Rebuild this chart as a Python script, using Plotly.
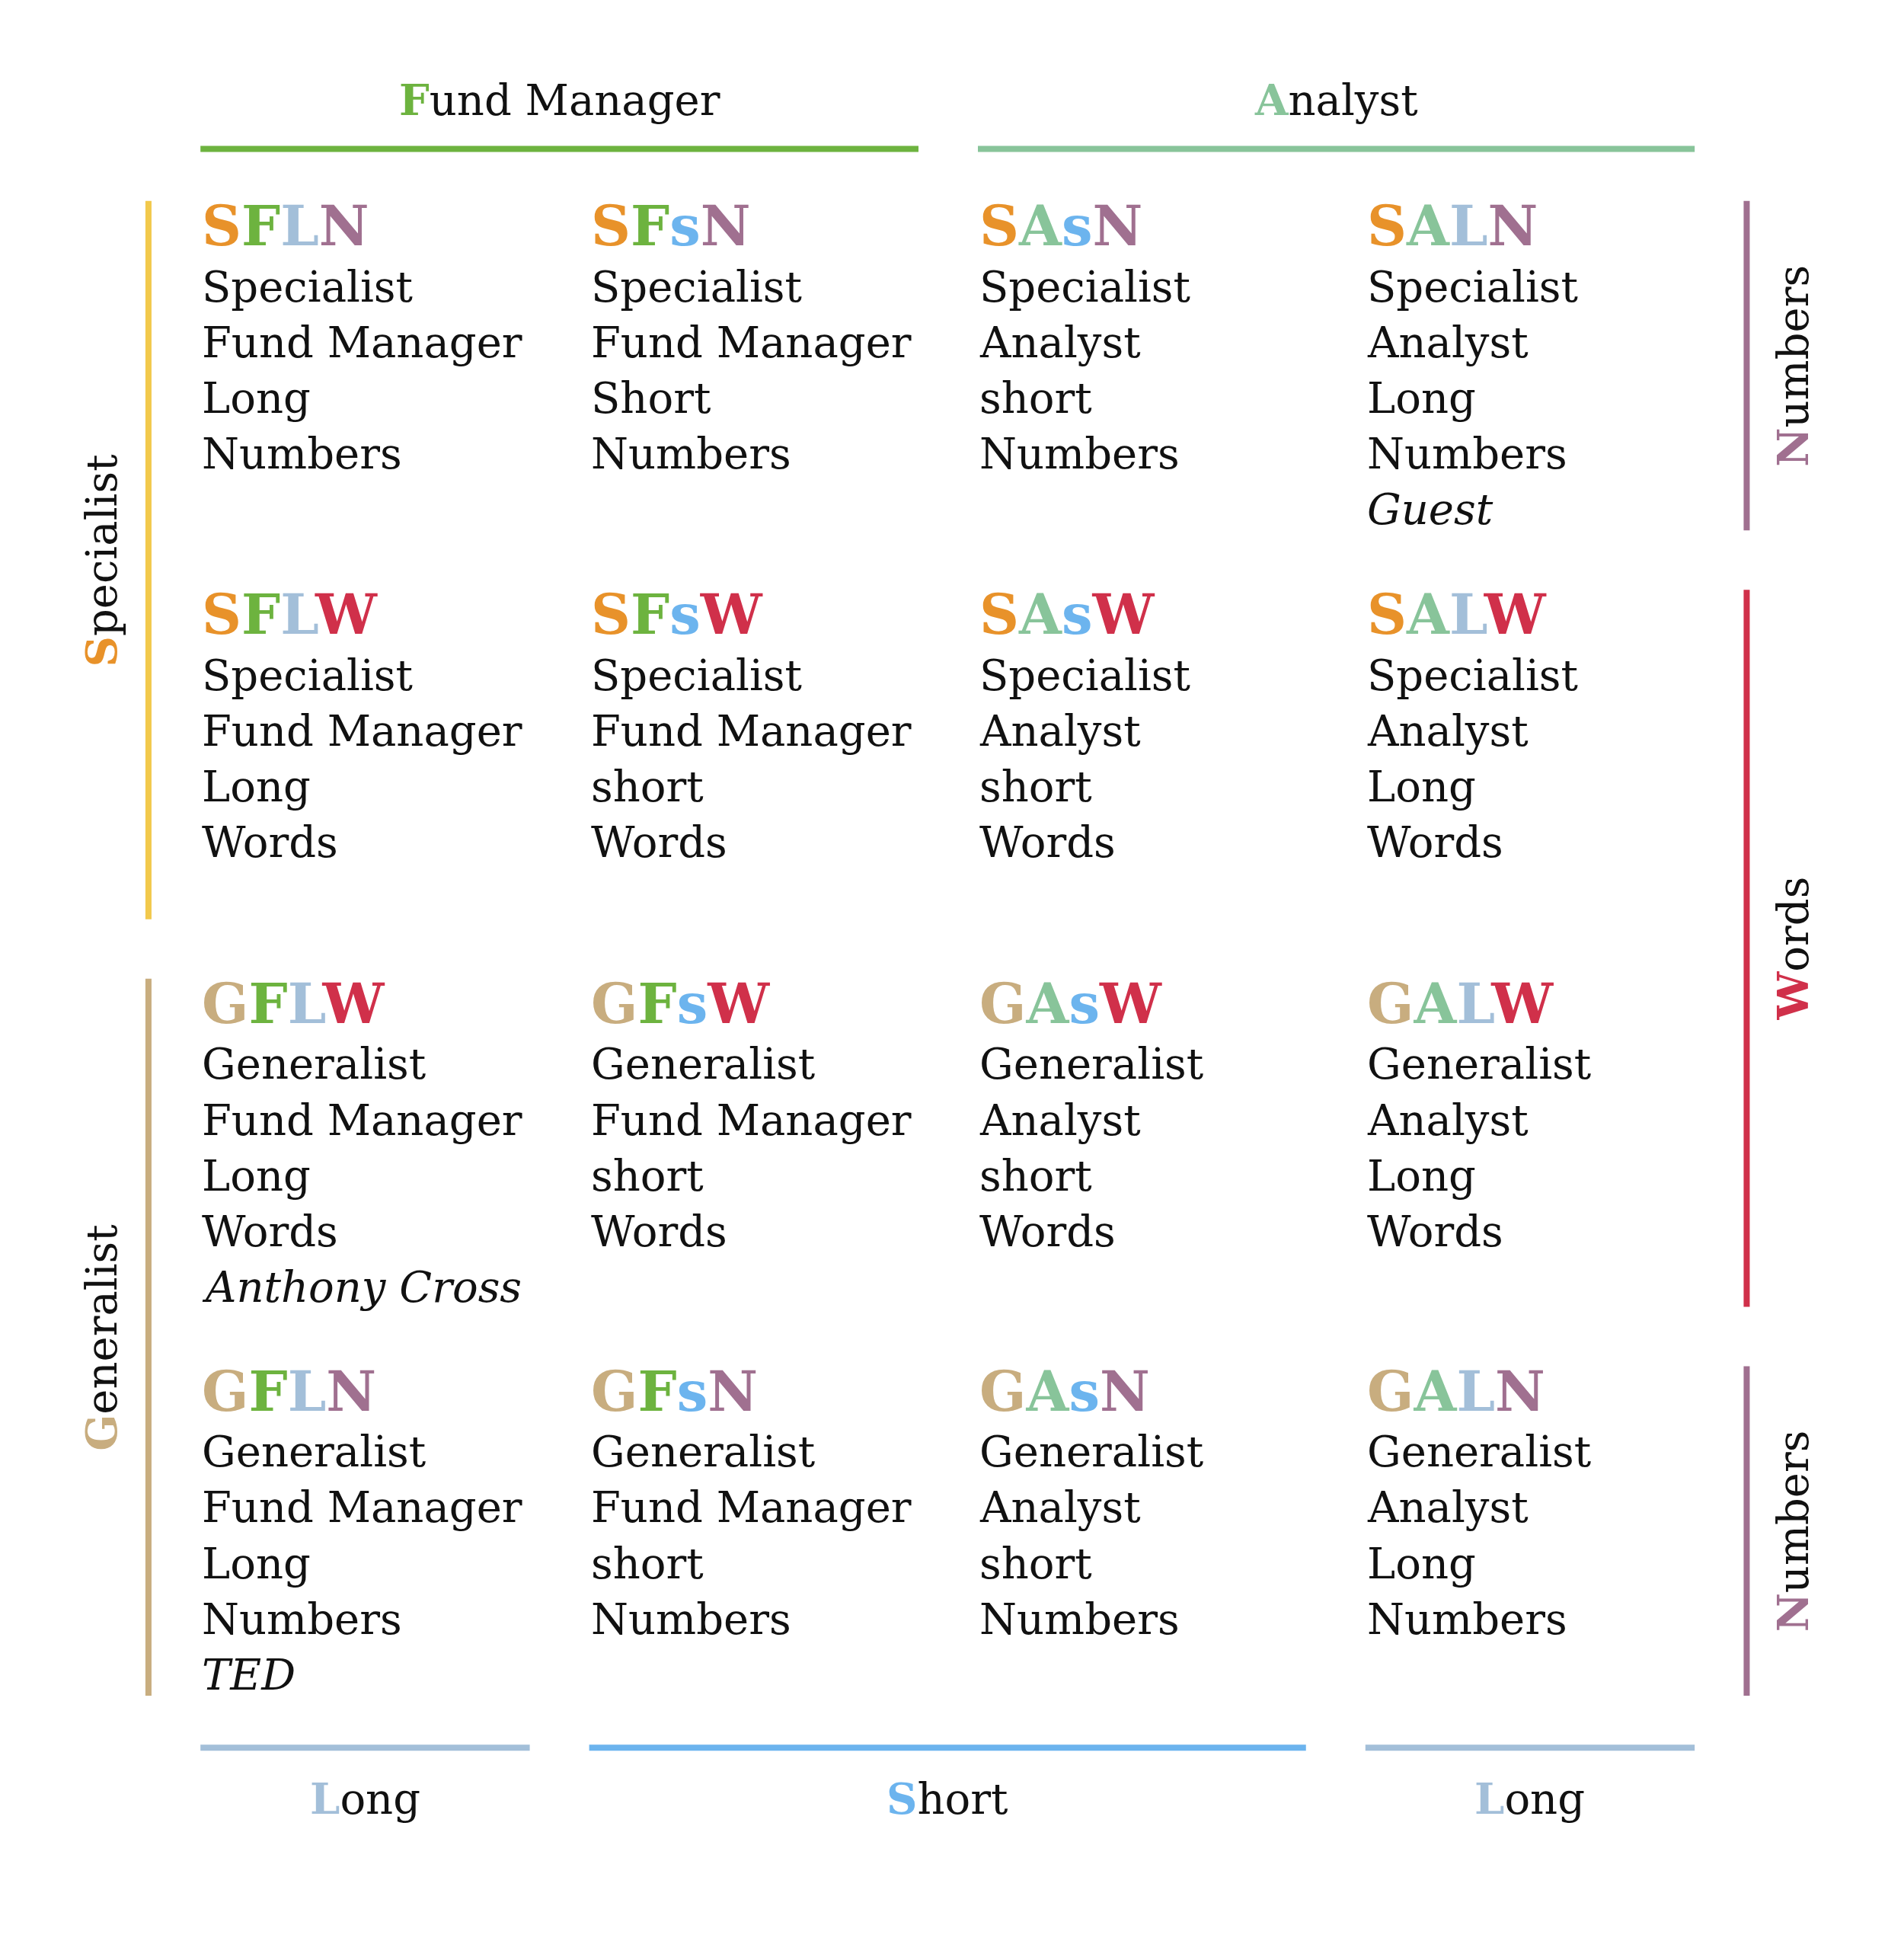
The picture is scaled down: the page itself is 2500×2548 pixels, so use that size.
import plotly.graph_objects as go

FONT = 'DejaVu Serif'

COLORS = {
    'S': '#E8922A',
    'F': '#6DB33F',
    'A': '#88C49A',
    'L': '#A3BFD9',
    's': '#6CB4EE',
    'N': '#A07090',
    'W': '#D0304A',
    'G': '#C8AD7F',
    'Y': '#F2C94C',
}

COL_X = [162, 476, 790, 1103]
ROW_Y = [182, 496, 810, 1123]

cells = [
    ['SFLN', ['Specialist', 'Fund Manager', 'Long', 'Numbers']],
    ['SFsN', ['Specialist', 'Fund Manager', 'Short', 'Numbers']],
    ['SAsN', ['Specialist', 'Analyst', 'short', 'Numbers']],
    ['SALN', ['Specialist', 'Analyst', 'Long', 'Numbers', '<i>Guest</i>']],
    ['SFLW', ['Specialist', 'Fund Manager', 'Long', 'Words']],
    ['SFsW', ['Specialist', 'Fund Manager', 'short', 'Words']],
    ['SAsW', ['Specialist', 'Analyst', 'short', 'Words']],
    ['SALW', ['Specialist', 'Analyst', 'Long', 'Words']],
    ['GFLW', ['Generalist', 'Fund Manager', 'Long', 'Words', '<i>Anthony Cross</i>']],
    ['GFsW', ['Generalist', 'Fund Manager', 'short', 'Words']],
    ['GAsW', ['Generalist', 'Analyst', 'short', 'Words']],
    ['GALW', ['Generalist', 'Analyst', 'Long', 'Words']],
    ['GFLN', ['Generalist', 'Fund Manager', 'Long', 'Numbers', '<i>TED</i>']],
    ['GFsN', ['Generalist', 'Fund Manager', 'short', 'Numbers']],
    ['GAsN', ['Generalist', 'Analyst', 'short', 'Numbers']],
    ['GALN', ['Generalist', 'Analyst', 'Long', 'Numbers']],
]

# (label, first letter colour key, line colour key, side, start, end)
groups = [
    ('Fund Manager', 'F', 'F', 'top', 162, 742),
    ('Analyst', 'A', 'A', 'top', 790, 1369),
    ('Specialist', 'S', 'Y', 'left', 162, 742),
    ('Generalist', 'G', 'G', 'left', 790, 1369),
    ('Numbers', 'N', 'N', 'right', 162, 428),
    ('Words', 'W', 'W', 'right', 476, 1055),
    ('Numbers', 'N', 'N', 'right', 1103, 1369),
    ('Long', 'L', 'L', 'bottom', 162, 428),
    ('Short', 's', 's', 'bottom', 476, 1055),
    ('Long', 'L', 'L', 'bottom', 1103, 1369),
]


def colour_code(code):
    return ''.join(f"<span style='color:{COLORS[c]}'>{c}</span>" for c in code)


def add_cells(fig):
    for i, (code, lines) in enumerate(cells):
        x = COL_X[i % 4]
        y = ROW_Y[i // 4]
        fig.add_annotation(x=x, y=y, text='<b>' + colour_code(code) + '</b>',
                           font=dict(size=72, family=FONT), xanchor='left', yanchor='middle')
        for j, line in enumerate(lines):
            fig.add_annotation(x=x, y=y + 49 + 45 * j, text=line,
                               font=dict(size=56, family=FONT, color='#111111'),
                               xanchor='left', yanchor='middle')


def add_groups(fig):
    for label, key, line_key, side, a, b in groups:
        text = f"<span style='color:{COLORS[key]}'><b>{label[0]}</b></span>{label[1:]}"
        mid = (a + b) / 2
        if side in ('top', 'bottom'):
            ly, ty = (120, 80) if side == 'top' else (1411, 1452)
            fig.add_shape(type='line', x0=a, x1=b, y0=ly, y1=ly,
                          line=dict(color=COLORS[line_key], width=8))
            fig.add_annotation(x=mid, y=ty, text=text, textangle=0,
                               font=dict(size=56, family=FONT, color='#111111'))
        else:
            lx, tx = (120, 82) if side == 'left' else (1411, 1448)
            fig.add_shape(type='line', x0=lx, x1=lx, y0=a, y1=b,
                          line=dict(color=COLORS[line_key], width=8))
            fig.add_annotation(x=tx, y=mid, text=text, textangle=-90,
                               font=dict(size=56, family=FONT, color='#111111'))


def main():
    fig = go.Figure()
    add_cells(fig)
    add_groups(fig)
    for ann in fig.layout.annotations:
        ann.showarrow = False
    fig.update_xaxes(range=[5, 1543], visible=False)
    fig.update_yaxes(range=[1572, 4.6], visible=False)
    fig.update_layout(width=2500, height=2548, margin=dict(l=0, r=0, t=0, b=0),
                      plot_bgcolor='white', paper_bgcolor='white', showlegend=False)
    fig.write_html('out.html')


if __name__ == '__main__':
    main()
